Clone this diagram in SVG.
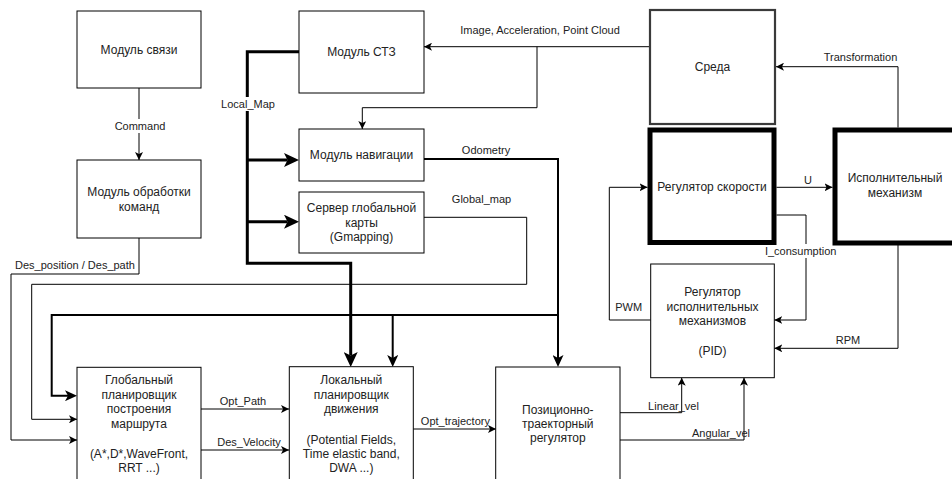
<svg xmlns="http://www.w3.org/2000/svg" width="952" height="479" viewBox="0 0 952 479">
<style>
.box{fill:#fff;stroke:#000;stroke-width:1}
.thick{fill:#fff;stroke:#000;stroke-width:5}
.env{fill:#fff;stroke:#3a3a3a;stroke-width:2.2}
.t{font-family:"Liberation Sans",Arial,sans-serif;font-size:12px;fill:#222;text-anchor:middle;dominant-baseline:central}
.l{font-family:"Liberation Sans",Arial,sans-serif;font-size:11px;fill:#222;text-anchor:middle;dominant-baseline:central}
.c1{fill:none;stroke:#000;stroke-width:1}
.c2{fill:none;stroke:#000;stroke-width:2}
.c3{fill:none;stroke:#000;stroke-width:3}
.a1{marker-end:url(#arr1)}
.a2{marker-end:url(#arr2)}
.a3{marker-end:url(#arr3)}
.bg{fill:#fff}
</style>
<defs>
<marker id="arr1" markerUnits="userSpaceOnUse" markerWidth="8" markerHeight="8" refX="8" refY="4" orient="auto"><path d="M0,0 L8,4 L0,8 L2,4 Z" fill="#000"/></marker>
<marker id="arr2" markerUnits="userSpaceOnUse" markerWidth="12" markerHeight="11" refX="3" refY="5.5" orient="auto"><path d="M0,0 L12,5.5 L0,11 L3,5.5 Z" fill="#000"/></marker>
<marker id="arr3" markerUnits="userSpaceOnUse" markerWidth="15" markerHeight="14" refX="3.5" refY="7" orient="auto"><path d="M0,0 L15,7 L0,14 L3.5,7 Z" fill="#000"/></marker>
</defs>
<rect width="952" height="479" fill="#fff"/>

<g id="connectors">
  <!-- Command -->
  <path class="c1 a1" d="M139,88 V160"/>
  <rect class="bg" x="114" y="119" width="51" height="14"/>
  <text class="l" x="140" y="126">Command</text>
  <!-- Des_position / Des_path -->
  <path class="c1 a1" d="M139,238 V274 H11 V440 H77"/>
  <text class="l" x="75" y="265">Des_position / Des_path</text>
  <!-- Image, Acceleration, Point Cloud -->
  <path class="c1 a1" d="M650,46.7 H424"/>
  <path class="c1 a1" d="M537,46.7 V107.7 H362.3 V129"/>
  <text class="l" x="540" y="30">Image, Acceleration, Point Cloud</text>
  <!-- Local_Map -->
  <path class="c3 a3" d="M299,51.7 H247.3 V263.3 H350.7 V355.5"/>
  <path class="c3 a3" d="M247.3,160 H287.5"/>
  <path class="c3 a3" d="M247.3,221.7 H287.5"/>
  <rect class="bg" x="220" y="97" width="56" height="14"/>
  <text class="l" x="248" y="104">Local_Map</text>
  <!-- Odometry -->
  <path class="c2 a2" d="M424,159 H558 V358"/>
  <path class="c2 a2" d="M558,315 H51.7 V395.7 H68"/>
  <path class="c2 a2" d="M392.7,315 V358"/>
  <text class="l" x="486" y="150">Odometry</text>
  <!-- Global_map -->
  <path class="c1 a1" d="M424,217.3 H526.7 V284.3 H31.7 V419.3 H77"/>
  <text class="l" x="481.5" y="199">Global_map</text>
  <!-- Opt_Path -->
  <path class="c1 a1" d="M201,409 H289"/>
  <text class="l" x="243" y="400.7">Opt_Path</text>
  <!-- Des_Velocity -->
  <path class="c1 a1" d="M201,450 H289"/>
  <text class="l" x="249" y="441.7">Des_Velocity</text>
  <!-- Opt_trajectory -->
  <path class="c1 a1" d="M413,429 H496"/>
  <text class="l" x="455.4" y="420.7">Opt_trajectory</text>
  <!-- Transformation -->
  <path class="c1 a1" d="M898,127.5 V66.7 H776"/>
  <text class="l" x="860.5" y="57">Transformation</text>
  <!-- U -->
  <path class="c1 a1" d="M776.5,187.3 H832.5"/>
  <text class="l" x="808" y="180">U</text>
  <!-- I_consumption -->
  <path class="c1 a1" d="M776.5,215 H806 V320 H774.3"/>
  <rect class="bg" x="768" y="244" width="65" height="14"/>
  <text class="l" x="800.7" y="250.7">I_consumption</text>
  <!-- PWM -->
  <path class="c1 a1" d="M650.7,320 H609.3 V187.3 H647.5"/>
  <text class="l" x="628.7" y="306.7">PWM</text>
  <!-- RPM -->
  <path class="c1 a1" d="M898,245 V348.3 H774.3"/>
  <text class="l" x="848" y="340">RPM</text>
  <!-- Linear_vel -->
  <path class="c1 a1" d="M620,412.7 H681.7 V377.7"/>
  <text class="l" x="673.5" y="405.7">Linear_vel</text>
  <!-- Angular_vel -->
  <path class="c1 a1" d="M620,440 H744 V377.7"/>
  <text class="l" x="721" y="433.3">Angular_vel</text>
</g>

<g id="node-svyazi">
  <rect class="box" x="77" y="11" width="124" height="77"/>
  <text class="t" x="139" y="49.5">Модуль связи</text>
</g>
<g id="node-obrabotki">
  <rect class="box" x="77" y="160" width="124" height="78"/>
  <text class="t" x="139" y="191.7">Модуль обработки</text>
  <text class="t" x="139" y="206.7">команд</text>
</g>
<g id="node-stz">
  <rect class="box" x="299" y="11" width="125" height="82"/>
  <text class="t" x="361.5" y="51.7">Модуль СТЗ</text>
</g>
<g id="node-navigacii">
  <rect class="box" x="299" y="129" width="125" height="52"/>
  <text class="t" x="361.5" y="155">Модуль навигации</text>
</g>
<g id="node-server">
  <rect class="box" x="299" y="192" width="125" height="61"/>
  <text class="t" x="361.5" y="208">Сервер глобальной</text>
  <text class="t" x="361.5" y="222.7">карты</text>
  <text class="t" x="361.5" y="237.4">(Gmapping)</text>
</g>
<g id="node-sreda">
  <rect class="env" x="650" y="10" width="125" height="114"/>
  <text class="t" x="712.5" y="67.3">Среда</text>
</g>
<g id="node-reg-skorosti">
  <rect class="thick" x="650" y="130" width="124" height="112.5"/>
  <text class="t" x="712" y="187">Регулятор скорости</text>
</g>
<g id="node-ispolnitelny">
  <rect class="thick" x="835" y="130" width="124" height="113"/>
  <text class="t" x="895" y="178.3">Исполнительный</text>
  <text class="t" x="895" y="193.3">механизм</text>
</g>
<g id="node-reg-ispoln">
  <rect class="box" x="650.7" y="264" width="123.6" height="113.7"/>
  <text class="t" x="712.5" y="292">Регулятор</text>
  <text class="t" x="712.5" y="306.7">исполнительных</text>
  <text class="t" x="712.5" y="321.4">механизмов</text>
  <text class="t" x="712.5" y="351">(PID)</text>
</g>
<g id="node-global-planner">
  <rect class="box" x="77" y="367.3" width="124" height="125"/>
  <text class="t" x="139" y="380">Глобальный</text>
  <text class="t" x="139" y="394.7">планировщик</text>
  <text class="t" x="139" y="409.4">построения</text>
  <text class="t" x="139" y="424.1">маршрута</text>
  <text class="t" x="139" y="453.5">(A*,D*,WaveFront,</text>
  <text class="t" x="139" y="468.2">RRT ...)</text>
</g>
<g id="node-local-planner">
  <rect class="box" x="289.3" y="366.7" width="124" height="125"/>
  <text class="t" x="351.3" y="380">Локальный</text>
  <text class="t" x="351.3" y="394.7">планировщик</text>
  <text class="t" x="351.3" y="409.4">движения</text>
  <text class="t" x="351.3" y="439.5">(Potential Fields,</text>
  <text class="t" x="351.3" y="453.5">Time elastic band,</text>
  <text class="t" x="351.3" y="467.5">DWA ...)</text>
</g>
<g id="node-pos-reg">
  <rect class="box" x="495.7" y="367" width="124.3" height="125"/>
  <text class="t" x="557.8" y="409.5">Позиционно-</text>
  <text class="t" x="557.8" y="423.5">траекторный</text>
  <text class="t" x="557.8" y="437.5">регулятор</text>
</g>
</svg>
